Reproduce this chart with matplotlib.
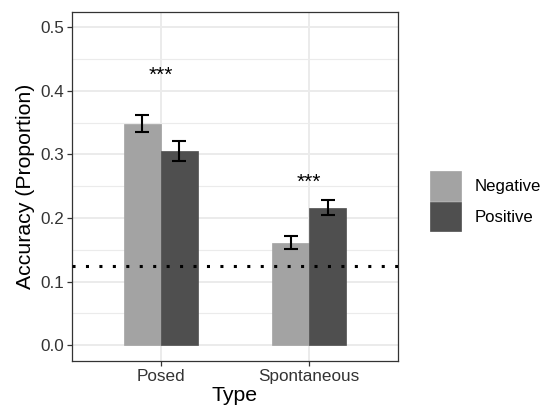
import numpy as np
import matplotlib.pyplot as plt

plt.rcParams['font.family'] = ['Liberation Sans', 'DejaVu Sans']

# data
types = ["Posed", "Spontaneous"]
groups = ["Negative", "Positive"]
means = {"Negative": [0.348, 0.161], "Positive": [0.305, 0.216]}
lower = {"Negative": [0.336, 0.151], "Positive": [0.290, 0.204]}
upper = {"Negative": [0.362, 0.171], "Positive": [0.321, 0.228]}
colors = {"Negative": "#A3A3A3", "Positive": "#4F4F4F"}
chance = 0.125
star_labels = ["***", "***"]
star_y = [0.425, 0.256]

fig = plt.figure(figsize=(5.44, 4.11), dpi=100)
ax = fig.add_axes([0.1324, 0.1217, 0.5992, 0.8491])

x = np.arange(1, len(types) + 1)
w = 0.25
for i, g in enumerate(groups):
    pos = x + (i - 0.5) * w
    m = np.array(means[g])
    ax.bar(pos, m, width=w, color=colors[g], edgecolor=colors[g],
           linewidth=0.5, label=g, zorder=2)
    err = [m - np.array(lower[g]), np.array(upper[g]) - m]
    ax.errorbar(pos, m, yerr=err, fmt='none', ecolor='black',
                elinewidth=1.5, capsize=5, capthick=1.5, zorder=3)

ax.axhline(chance, color='black', lw=2.2, linestyle=(0, (1, 3.4)), zorder=4)

for xi, s, yy in zip(x, star_labels, star_y):
    ax.text(xi, yy, s, ha='center', va='center', fontsize=15, color='black')

ax.set_xlim(0.4, 2.6)
ax.set_ylim(-0.025, 0.524)
ax.set_xticks(x)
ax.set_xticklabels(types)
ax.set_yticks([0.0, 0.1, 0.2, 0.3, 0.4, 0.5])
ax.set_yticklabels(["0.0", "0.1", "0.2", "0.3", "0.4", "0.5"])
ax.set_yticks([0.05, 0.15, 0.25, 0.35, 0.45], minor=True)

ax.grid(True, which='major', color='#EBEBEB', lw=1.4, zorder=0)
ax.grid(True, which='minor', axis='y', color='#EBEBEB', lw=0.8, zorder=0)
ax.set_axisbelow(True)

for sp in ax.spines.values():
    sp.set_color('#333333')
    sp.set_linewidth(0.9)

ax.tick_params(axis='both', which='major', length=3.5, width=0.9,
               color='#333333', labelsize=12.3, labelcolor='#333333', pad=2)
ax.tick_params(axis='y', which='minor', length=0)

ax.set_xlabel("Type", fontsize=15.3, labelpad=2)
ax.set_ylabel("Accuracy (Proportion)", fontsize=15.3, labelpad=4)

ax.legend(loc='center left', bbox_to_anchor=(0.79, 0.51),
          bbox_transform=fig.transFigure, frameon=False,
          fontsize=12.1, handlelength=1.85, handleheight=2.3, handletextpad=0.8,
          labelspacing=0.1, borderaxespad=0, borderpad=0)

fig.savefig("out.png", dpi=100)
